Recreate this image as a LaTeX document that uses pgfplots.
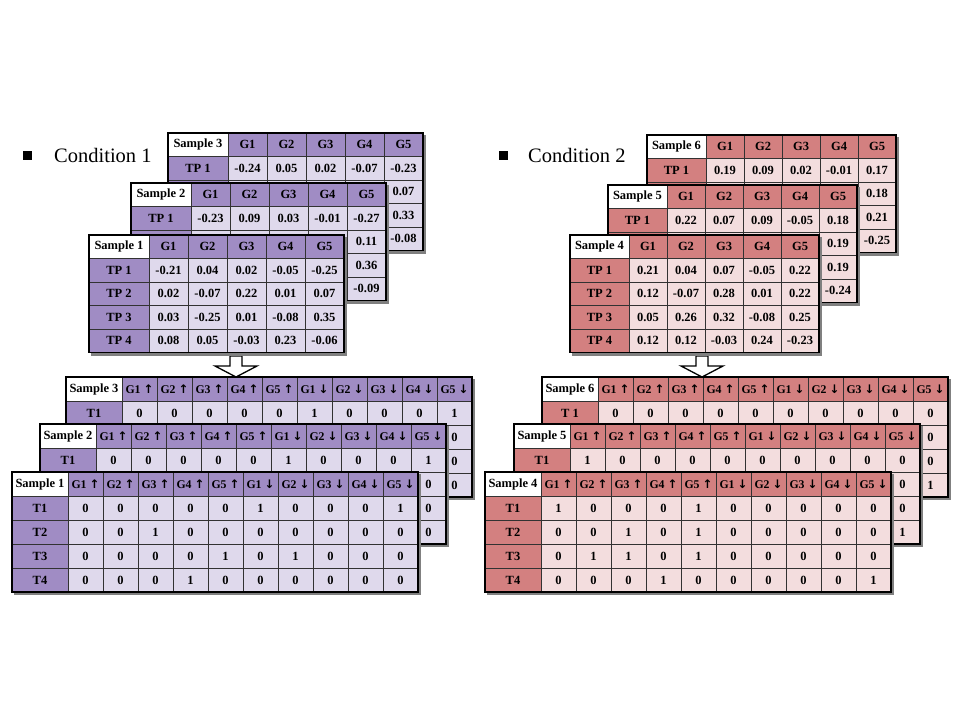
\documentclass[border=0pt]{standalone}
\usepackage{fontspec}
\setmainfont{Liberation Serif}
\newfontfamily\arrowfont{DejaVu Sans}
\newcommand\up{{\arrowfont\bfseries ↑}}
\newcommand\dn{{\arrowfont\bfseries ↓}}
\usepackage{pgfplots}
\usepackage{pgfplotstable}
\pgfplotsset{compat=1.18}
\definecolor{darkP}{RGB}{160,140,196}
\definecolor{lightP}{RGB}{223,217,236}
\definecolor{darkR}{RGB}{211,128,128}
\definecolor{lightR}{RGB}{243,221,222}
\definecolor{gridline}{RGB}{50,50,50}

\pgfplotstableread{
a b
0 0
}\one

\pgfplotstableread{
j lab
1 G1
2 G2
3 G3
4 G4
5 G5
}\hdrG

\pgfplotstableread{
j lab
1 {G1 \up}
2 {G2 \up}
3 {G3 \up}
4 {G4 \up}
5 {G5 \up}
6 {G1 \dn}
7 {G2 \dn}
8 {G3 \dn}
9 {G4 \dn}
10 {G5 \dn}
}\hdrT

% ---------- Condition 1, raw values (hidden cells left empty) ----------
\pgfplotstableread{
r lab c1 c2 c3 c4 c5
1 {TP 1} -0.21 0.04 0.02 -0.05 -0.25
2 {TP 2} 0.02 -0.07 0.22 0.01 0.07
3 {TP 3} 0.03 -0.25 0.01 -0.08 0.35
4 {TP 4} 0.08 0.05 -0.03 0.23 -0.06
}\tlA
\pgfplotstableread{
r lab c1 c2 c3 c4 c5
1 {TP 1} -0.23 0.09 0.03 -0.01 -0.27
2 {} {} {} {} {} 0.11
3 {} {} {} {} {} 0.36
4 {} {} {} {} {} -0.09
}\tlB
\pgfplotstableread{
r lab c1 c2 c3 c4 c5
1 {TP 1} -0.24 0.05 0.02 -0.07 -0.23
2 {} {} {} {} {} 0.07
3 {} {} {} {} {} 0.33
4 {} {} {} {} {} -0.08
}\tlC
% ---------- Condition 2, raw values ----------
\pgfplotstableread{
r lab c1 c2 c3 c4 c5
1 {TP 1} 0.21 0.04 0.07 -0.05 0.22
2 {TP 2} 0.12 -0.07 0.28 0.01 0.22
3 {TP 3} 0.05 0.26 0.32 -0.08 0.25
4 {TP 4} 0.12 0.12 -0.03 0.24 -0.23
}\trA
\pgfplotstableread{
r lab c1 c2 c3 c4 c5
1 {TP 1} 0.22 0.07 0.09 -0.05 0.18
2 {} {} {} {} {} 0.19
3 {} {} {} {} {} 0.19
4 {} {} {} {} {} -0.24
}\trB
\pgfplotstableread{
r lab c1 c2 c3 c4 c5
1 {TP 1} 0.19 0.09 0.02 -0.01 0.17
2 {} {} {} {} {} 0.18
3 {} {} {} {} {} 0.21
4 {} {} {} {} {} -0.25
}\trC
% ---------- Condition 1, binary ----------
\pgfplotstableread{
r lab c1 c2 c3 c4 c5 c6 c7 c8 c9 c10
1 T1 0 0 0 0 0 1 0 0 0 1
2 T2 0 0 1 0 0 0 0 0 0 0
3 T3 0 0 0 0 1 0 1 0 0 0
4 T4 0 0 0 1 0 0 0 0 0 0
}\blA
\pgfplotstableread{
r lab c1 c2 c3 c4 c5 c6 c7 c8 c9 c10
1 T1 0 0 0 0 0 1 0 0 0 1
2 {} {} {} {} {} {} {} {} {} {} 0
3 {} {} {} {} {} {} {} {} {} {} 0
4 {} {} {} {} {} {} {} {} {} {} 0
}\blB
\pgfplotstableread{
r lab c1 c2 c3 c4 c5 c6 c7 c8 c9 c10
1 T1 0 0 0 0 0 1 0 0 0 1
2 {} {} {} {} {} {} {} {} {} {} 0
3 {} {} {} {} {} {} {} {} {} {} 0
4 {} {} {} {} {} {} {} {} {} {} 0
}\blC
% ---------- Condition 2, binary ----------
\pgfplotstableread{
r lab c1 c2 c3 c4 c5 c6 c7 c8 c9 c10
1 T1 1 0 0 0 1 0 0 0 0 0
2 T2 0 0 1 0 1 0 0 0 0 0
3 T3 0 1 1 0 1 0 0 0 0 0
4 T4 0 0 0 1 0 0 0 0 0 1
}\brA
\pgfplotstableread{
r lab c1 c2 c3 c4 c5 c6 c7 c8 c9 c10
1 T1 1 0 0 0 0 0 0 0 0 0
2 {} {} {} {} {} {} {} {} {} {} 0
3 {} {} {} {} {} {} {} {} {} {} 0
4 {} {} {} {} {} {} {} {} {} {} 1
}\brB
\pgfplotstableread{
r lab c1 c2 c3 c4 c5 c6 c7 c8 c9 c10
1 {T 1} 0 0 0 0 0 0 0 0 0 0
2 {} {} {} {} {} {} {} {} {} {} 0
3 {} {} {} {} {} {} {} {} {} {} 0
4 {} {} {} {} {} {} {} {} {} {} 1
}\brC

\pgfplotsset{
  cellplot/.style n args={5}{only marks, mark=square*, mark size=0.5pt,
     mark options={xscale={#1}, yscale={#2}, fill=#3, draw=#4, line width=#5}},
  borderplot/.style n args={2}{only marks, mark=square, mark size=0.5pt,
     mark options={xscale={#1}, yscale={#2}, draw=black, line width=1.5pt}},
  symb/.style={point meta=explicit symbolic, nodes near coords={\pgfplotspointmeta}},
}

% #1 data #2 header #3 x0 #4 y0 #5 first col width #6 col width #7 name #8 dark #9 light
\newcommand\drawTop[9]{%
 \addplot[cellplot={#5+5*#6}{117.5}{black!50}{black!50}{0.1pt}] table[x expr={#3+(#5+5*#6)/2+2.5}, y expr={#4+58.75+2.5}] {\one};
 \addplot[cellplot={#5}{23.5}{white}{gridline}{0.6pt}, nodes near coords={#7}] table[x expr={#3+#5/2}, y expr={#4+11.75}] {\one};
 \addplot[cellplot={#6}{23.5}{#8}{gridline}{0.6pt}, symb] table[x expr={#3+#5+#6*(\coordindex+0.5)}, y expr={#4+11.75}, meta=lab] {#2};
 \addplot[cellplot={#5}{23.5}{#8}{gridline}{0.6pt}, symb] table[x expr={#3+#5/2}, y expr={#4+23.5*(\coordindex+1.5)}, meta=lab] {#1};
 \pgfplotsinvokeforeach{1,...,5}{%
  \addplot[cellplot={#6}{23.5}{#9}{gridline}{0.6pt}, symb] table[x expr={#3+#5+#6*(##1-0.5)}, y expr={#4+23.5*(\coordindex+1.5)}, meta=c##1] {#1};
 }
 \addplot[borderplot={#5+5*#6}{117.5}] table[x expr={#3+(#5+5*#6)/2}, y expr={#4+58.75}] {\one};
}
\newcommand\drawBot[9]{%
 \addplot[cellplot={#5+10*#6}{120}{black!50}{black!50}{0.1pt}] table[x expr={#3+(#5+10*#6)/2+2.5}, y expr={#4+60+2.5}] {\one};
 \addplot[cellplot={#5}{24}{white}{gridline}{0.6pt}, nodes near coords={#7}] table[x expr={#3+#5/2}, y expr={#4+12}] {\one};
 \addplot[cellplot={#6}{24}{#8}{gridline}{0.6pt}, symb,
   every node near coord/.append style={font=\fontsize{11.8}{14}\selectfont\bfseries}]
   table[x expr={#3+#5+#6*(\coordindex+0.5)}, y expr={#4+12}, meta=lab] {#2};
 \addplot[cellplot={#5}{24}{#8}{gridline}{0.6pt}, symb] table[x expr={#3+#5/2}, y expr={#4+24*(\coordindex+1.5)}, meta=lab] {#1};
 \pgfplotsinvokeforeach{1,...,10}{%
  \addplot[cellplot={#6}{24}{#9}{gridline}{0.6pt}, symb] table[x expr={#3+#5+#6*(##1-0.5)}, y expr={#4+24*(\coordindex+1.5)}, meta=c##1] {#1};
 }
 \addplot[borderplot={#5+10*#6}{120}] table[x expr={#3+(#5+10*#6)/2}, y expr={#4+60}] {\one};
}

\begin{document}
\begin{tikzpicture}
\begin{axis}[
  scale only axis, width=960pt, height=720pt,
  xmin=0, xmax=960, ymin=0, ymax=720, y dir=reverse,
  hide axis, clip=false,
  every node near coord/.append style={anchor=center, inner sep=0pt, text=black,
     font=\fontsize{12.5}{14}\selectfont\bfseries},
]
\addplot[draw=none, mark=none] coordinates {(0,0) (960,720)};

% Condition labels
\addplot[only marks, mark=square*, mark size=3.8pt, black] coordinates {(27,155) (503,155)};
\addplot[draw=none, mark=none, point meta=explicit symbolic, nodes near coords={\pgfplotspointmeta},
   every node near coord/.append style={anchor=west, font=\fontsize{20.5}{24}\selectfont}]
   coordinates {(54,155) [Condition 1] (528,155) [Condition 2]};

% top tables
\drawTop{\tlC}{\hdrG}{168}{133}{60}{39}{Sample 3}{darkP}{lightP}
\drawTop{\tlB}{\hdrG}{131}{183}{60}{39}{Sample 2}{darkP}{lightP}
\drawTop{\tlA}{\hdrG}{89}{235}{60}{39}{Sample 1}{darkP}{lightP}
\drawTop{\trC}{\hdrG}{647}{135}{59}{38}{Sample 6}{darkR}{lightR}
\drawTop{\trB}{\hdrG}{608}{185}{59}{38}{Sample 5}{darkR}{lightR}
\drawTop{\trA}{\hdrG}{570}{235}{59}{38}{Sample 4}{darkR}{lightR}

% bottom tables
\drawBot{\blC}{\hdrT}{66}{377}{56}{35}{Sample 3}{darkP}{lightP}
\drawBot{\blB}{\hdrT}{40}{424}{56}{35}{Sample 2}{darkP}{lightP}
\drawBot{\blA}{\hdrT}{12}{472}{56}{35}{Sample 1}{darkP}{lightP}
\drawBot{\brC}{\hdrT}{542}{377}{56}{35}{Sample 6}{darkR}{lightR}
\drawBot{\brB}{\hdrT}{514}{424}{56}{35}{Sample 5}{darkR}{lightR}
\drawBot{\brA}{\hdrT}{485}{472}{56}{35}{Sample 4}{darkR}{lightR}

% arrows
\addplot[fill=white, draw=black, line width=1.3pt, mark=none, line join=miter]
  coordinates {(230,356) (242,356) (242,366) (257,366) (236,377) (215,366) (230,366) (230,356) (242,356)};
\addplot[fill=white, draw=black, line width=1.3pt, mark=none, line join=miter]
  coordinates {(696,356) (708,356) (708,366) (723,366) (702,377) (681,366) (696,366) (696,356) (708,356)};
\end{axis}
\end{tikzpicture}
\end{document}
